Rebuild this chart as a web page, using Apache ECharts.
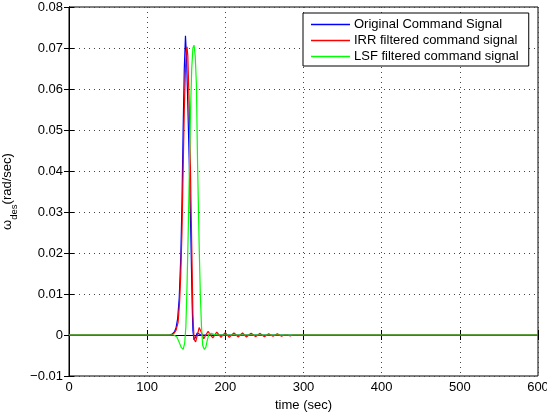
<!DOCTYPE html>
<html>
<head>
<meta charset="utf-8">
<script src="https://cdn.jsdelivr.net/npm/echarts@6/dist/echarts.min.js"></script>
<style>
html,body{margin:0;padding:0;background:#fff;}
#c{width:547px;height:416px;}
</style>
</head>
<body>
<div id="c"></div>
<script>
// Data (time in seconds, omega_des in rad/sec)
var seriesNames = ['Original Command Signal', 'IRR filtered command signal', 'LSF filtered command signal'];
var xTicks = [0, 100, 200, 300, 400, 500, 600];
var yTicks = [-0.01, 0, 0.01, 0.02, 0.03, 0.04, 0.05, 0.06, 0.07, 0.08];

var tBlue = [0, 128, 132, 135, 137, 139, 141, 143, 144.5, 146, 147.5, 149, 150.3, 152, 154, 156, 157.5, 158.5, 160, 162, 164, 166, 169, 600];
var vBlue = [0, 0, 0.0002, 0.0008, 0.0018, 0.004, 0.009, 0.019, 0.032, 0.050, 0.065, 0.073, 0.068, 0.056, 0.041, 0.023, 0.008, 0.001, -0.0012, -0.0005, 0.0005, 0.0003, 0, 0];

var tRed = [0, 130, 134, 137, 139.5, 141.5, 143, 144.5, 146, 147.5, 149, 150.2, 151, 152, 153.5, 155.2, 157, 158.5, 160, 162, 164, 166.5, 169, 172.5, 175, 178, 181, 184, 186.5, 189, 192, 194.5, 197, 200, 202.5, 205, 208, 211, 214, 216.5, 219, 222, 224.5, 227, 230, 233, 236, 239, 241.5, 244, 247, 250, 252.5, 255.5, 258, 261, 263.5, 266.5, 269, 272, 275, 277.5, 280, 283, 286, 600];
var vRed = [0, 0, 0.0003, 0.0012, 0.003, 0.008, 0.015, 0.025, 0.040, 0.055, 0.065, 0.0695, 0.0703, 0.068, 0.058, 0.042, 0.022, 0.005, -0.001, -0.0017, -0.0002, 0.0018, 0.0008, -0.0009, 0, 0.0009, 0, -0.0007, 0, 0.0007, 0, -0.0006, 0, 0.0006, 0, -0.0006, 0, 0.0005, 0, -0.0005, 0, 0.0005, 0, -0.0005, 0, 0.0004, 0, -0.0004, 0, 0.0004, 0, -0.0004, 0, 0.0003, 0, -0.0003, 0, 0.0003, 0, -0.0003, 0, 0.0002, 0, -0.0002, 0, 0];

var tGreen = [0, 134, 138, 141, 143.5, 146, 148, 149.5, 151, 152.5, 154, 155.5, 157, 158.5, 160, 161.5, 163, 164.5, 166.5, 168, 169.5, 171, 173, 175, 177, 179, 182, 186, 190, 600];
var vGreen = [0, 0, -0.0005, -0.0018, -0.003, -0.0035, -0.002, 0.002, 0.012, 0.025, 0.040, 0.055, 0.065, 0.070, 0.0707, 0.068, 0.061, 0.0415, 0.022, 0.010, 0.002, -0.0025, -0.0035, -0.003, -0.0012, 0.0002, 0.0004, 0.0001, 0, 0];

function pairs(t, v) { return t.map(function (x, i) { return [x, v[i]]; }); }

var FONT = 'Liberation Sans, Arial, Helvetica, sans-serif';
var colors = ['#0000ff', '#ff0000', '#00ff00'];

function yFmt(v) {
  if (Math.abs(v) < 1e-9) return '0';
  return (v < 0 ? '\u2212' : '') + Math.abs(v).toFixed(2);
}

var chart = echarts.init(document.getElementById('c'), null, {renderer: 'canvas'});
var splitLine = {show: true, lineStyle: {color: '#444', width: 1, type: [1, 4]}};
var option = {
  animation: false,
  backgroundColor: '#fff',
  grid: {left: 69, right: 9, top: 7, bottom: 40, show: true, borderColor: '#000', borderWidth: 1, backgroundColor: 'transparent', containLabel: false, outerBoundsMode: 'none'},
  legend: {
    show: true,
    orient: 'vertical',
    left: 303, top: 13,
    padding: [5, 10, 3, 8],
    itemGap: 3,
    itemWidth: 39, itemHeight: 1.5,
    icon: 'rect',
    borderColor: '#000', borderWidth: 1,
    backgroundColor: '#fff',
    textStyle: {fontFamily: FONT, fontSize: 13, color: '#000', padding: [0, 0, 0, -1]},
    data: seriesNames
  },
  xAxis: [{
    type: 'value', min: xTicks[0], max: xTicks[xTicks.length - 1], interval: 100,
    position: 'bottom',
    name: 'time (sec)', nameLocation: 'middle', nameGap: 21,
    nameTextStyle: {fontFamily: FONT, fontSize: 13, color: '#000'},
    axisLine: {show: true, lineStyle: {color: '#000', width: 1}},
    axisTick: {show: true, inside: true, length: 5, lineStyle: {color: '#000'}},
    axisLabel: {fontFamily: FONT, fontSize: 13, color: '#000', margin: 5},
    splitLine: splitLine
  }, {
    type: 'value', min: xTicks[0], max: xTicks[xTicks.length - 1], interval: 100,
    position: 'top',
    axisLine: {show: true, lineStyle: {color: '#000'}},
    axisTick: {show: true, inside: true, length: 5, lineStyle: {color: '#000'}},
    axisLabel: {show: false},
    splitLine: {show: false}
  }],
  yAxis: [{
    type: 'value', min: yTicks[0], max: yTicks[yTicks.length - 1], interval: 0.01,
    position: 'left',
    name: '{a|\u03c9}{b|des}{a|(rad/sec)}',
    nameLocation: 'middle', nameGap: 45, nameRotate: 90,
    nameTextStyle: {
      fontFamily: FONT, color: '#000',
      rich: {
        a: {fontFamily: FONT, fontSize: 13, color: '#000', lineHeight: 16, verticalAlign: 'bottom'},
        b: {fontFamily: FONT, fontSize: 9.5, color: '#000', lineHeight: 16, verticalAlign: 'bottom', padding: [0, 0, -5, 0]}
      }
    },
    axisLine: {show: true, lineStyle: {color: '#000', width: 1}},
    axisTick: {show: true, inside: true, length: 5, lineStyle: {color: '#000'}},
    axisLabel: {fontFamily: FONT, fontSize: 13, color: '#000', margin: 6, formatter: yFmt},
    splitLine: splitLine
  }, {
    type: 'value', min: yTicks[0], max: yTicks[yTicks.length - 1], interval: 0.01,
    position: 'right',
    axisLine: {show: true, lineStyle: {color: '#000'}},
    axisTick: {show: true, inside: true, length: 5, lineStyle: {color: '#000'}},
    axisLabel: {show: false},
    splitLine: {show: false}
  }],
  series: [
    {name: seriesNames[0], type: 'line', data: pairs(tBlue, vBlue), showSymbol: false, symbol: 'none', color: colors[0], lineStyle: {width: 1.2, color: colors[0]}, z: 3},
    {name: seriesNames[1], type: 'line', data: pairs(tRed, vRed), showSymbol: false, symbol: 'none', color: colors[1], lineStyle: {width: 1.2, color: colors[1]}, z: 4},
    {name: seriesNames[2], type: 'line', data: pairs(tGreen, vGreen), showSymbol: false, symbol: 'none', color: colors[2], lineStyle: {width: 1.2, color: colors[2]}, z: 5}
  ]
};
chart.setOption(option);
</script>
</body>
</html>
